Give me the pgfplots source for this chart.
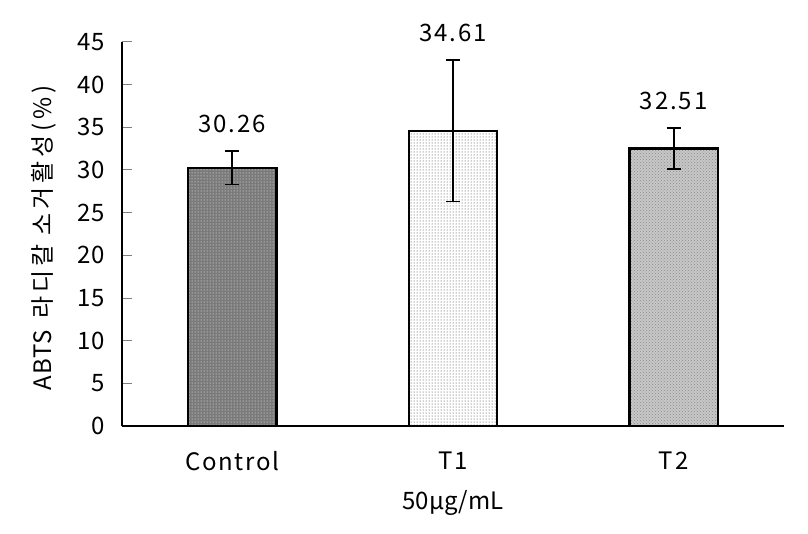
\documentclass[border=0pt]{standalone}
\usepackage{fontspec}
\setmainfont{Noto Sans CJK KR}
\usepackage{pgfplots}
\pgfplotsset{compat=1.18}
\usetikzlibrary{patterns}
\begin{document}
\begin{tikzpicture}
\useasboundingbox (-122pt,-107pt) rectangle (686pt,426pt);
\begin{axis}[
  at={(0,0)}, anchor=south west,
  scale only axis, width=662pt, height=384pt,
  xmin=-0.5, xmax=2.5, ymin=0, ymax=45,
  axis x line*=bottom, axis y line*=left,
  axis line style={line width=1.2pt},
  ytick={0,5,...,45},
  xtick={0,1,2}, xticklabels={Control,T1,T2},
  minor xtick={-0.5,0.5,1.5,2.5},
  tick align=inside,
  major tick length=10pt, minor tick length=8pt,
  xtick style={draw=none},
  minor tick style={draw=black, line width=1pt},
  ytick style={line width=1pt},
  /pgf/number format/assume math mode=true,
  tick label style={font=\fontsize{24}{28}\selectfont},
  yticklabel style={xshift=-14pt},
  xticklabel style={yshift=-12pt, font=\fontsize{24}{28}\selectfont\addfontfeatures{LetterSpace=7}},
  xlabel={50μg/mL},
  xlabel style={font=\fontsize{24}{28}\selectfont, at={(axis description cs:0.5,0)}, anchor=center, yshift=-77pt},
  ylabel={{\addfontfeatures{LetterSpace=4}ABTS}\hspace{12pt}{\addfontfeatures{LetterSpace=16}라디칼 소거활성(\%)}},
  ylabel style={font=\fontsize{24}{28}\selectfont, at={(axis description cs:-0.118,0.49)}, anchor=center},
  ybar, bar width=0.4, bar shift=0pt,
  clip=false,
]
\addplot[draw=black, line width=2.2pt, fill=black!52,
  postaction={pattern=dots, pattern color=white},
  error bars/.cd, y dir=both, y explicit,
  error bar style={line width=1.8pt},
  error mark options={rotate=90, mark size=7pt, line width=1.8pt}]
  coordinates {(0,30.26) +- (0,1.95)};
\addplot[draw=black, line width=2.2pt, fill=white,
  postaction={pattern=dots, pattern color=black!80},
  error bars/.cd, y dir=both, y explicit,
  error bar style={line width=1.8pt},
  error mark options={rotate=90, mark size=7pt, line width=1.8pt}]
  coordinates {(1,34.61) +- (0,8.3)};
\addplot[draw=black, line width=2.2pt, fill=black!22,
  postaction={pattern=crosshatch dots, pattern color=black!45},
  error bars/.cd, y dir=both, y explicit,
  error bar style={line width=1.8pt},
  error mark options={rotate=90, mark size=7pt, line width=1.8pt}]
  coordinates {(2,32.51) +- (0,2.4)};
\addplot[draw=none, fill=none, bar width=0, nodes near coords, point meta=explicit symbolic,
  every node near coord/.append style={font=\fontsize{24}{28}\selectfont\addfontfeatures{LetterSpace=8}, inner sep=0pt, anchor=south, yshift=18pt}]
  coordinates {(0,32.21) [30.26] (1,42.91) [34.61] (2,34.91) [32.51]};
\end{axis}
\end{tikzpicture}
\end{document}
